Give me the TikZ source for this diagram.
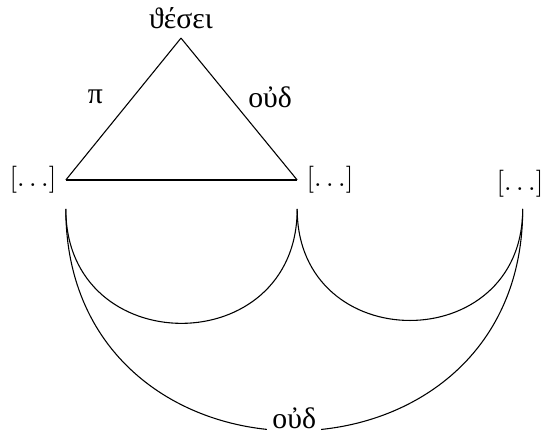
\documentclass[tikz,border=0pt]{standalone}
\usepackage{fontspec}
\newfontfamily\gr{Liberation Serif}[Scale=1.1]
\tikzset{
  lbl/.style={inner sep=3.33pt},
  gk/.style={font=\gr, inner sep=2pt},
  arc/.style={out=-90, in=-90, looseness=#1},
}
\begin{document}
\begin{tikzpicture}[x=0.37pt, y=-0.37pt, line width=0.4pt]
\useasboundingbox (0,0) rectangle (543,432);
\node[gk, inner sep=3.3pt] (t) at (181,18) {ϑέσει};
\node[lbl] (l) at (33,180) {$[\ldots]$};
\node[lbl] (m) at (330,180) {$[\ldots]$};
\node[lbl] (r) at (520,184) {$[\ldots]$};
\coordinate (ls) at ([yshift=-2.2pt]l.south east);
\coordinate (ms) at ([yshift=-2.2pt]m.south west);
\coordinate (rs) at ([xshift=1pt]r.south |- ms);
\draw (t.south) -- node[gk, midway, shift={(-28,-12)}] (p) {π} (l.east);
\draw (l.east) -- (m.west);
\draw (m.west) -- node[gk, midway, shift={(31,-12)}] (o1) {οὐδ} (t.south);
\draw (ls) to[arc=1.69] (ms);
\draw (ms) to[arc=1.69] (rs);
\draw (ls) to[arc=1.66] node[gk, midway, fill=white, yshift=4.8pt] (o2) {οὐδ} (rs);
\end{tikzpicture}
\end{document}
